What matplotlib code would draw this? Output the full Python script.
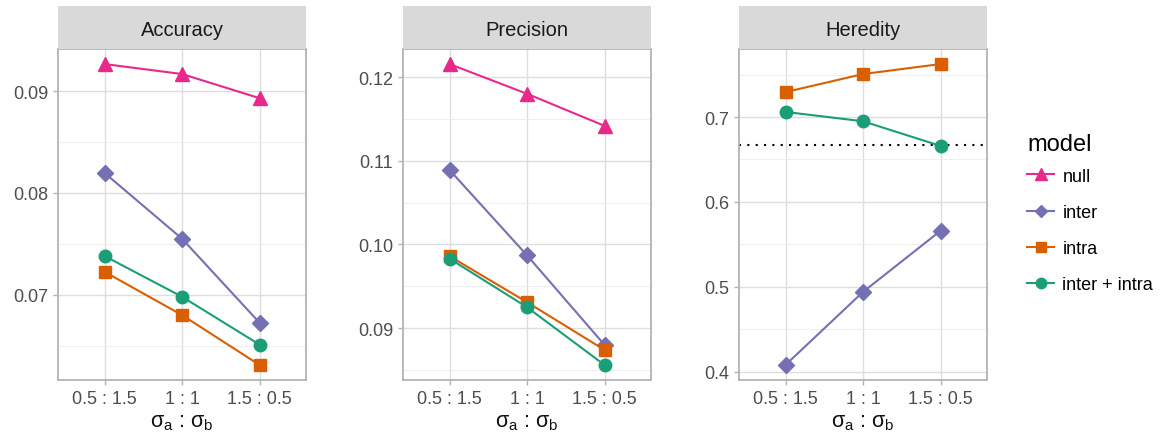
import matplotlib
matplotlib.use("Agg")
import matplotlib.pyplot as plt
from matplotlib.ticker import MultipleLocator
from matplotlib.lines import Line2D

plt.rcParams['font.family'] = ['Liberation Sans', 'DejaVu Sans']
plt.rcParams['mathtext.default'] = 'regular'

ratios = ['0.5 : 1.5', '1 : 1', '1.5 : 0.5']
models = ['null', 'inter', 'intra', 'inter + intra']
colors = {'null': '#E7298A', 'inter': '#7570B3', 'intra': '#D95F02', 'inter + intra': '#1B9E77'}
markers = {'null': '^', 'inter': 'D', 'intra': 's', 'inter + intra': 'o'}
msizes = {'null': 10, 'inter': 8, 'intra': 8.5, 'inter + intra': 9}

accuracy = {
    'null': [0.09265, 0.09167, 0.0893],
    'inter': [0.08196, 0.0755, 0.06725],
    'intra': [0.07225, 0.0680, 0.0631],
    'inter + intra': [0.0738, 0.0698, 0.0651],
}
precision = {
    'null': [0.12155, 0.1180, 0.11417],
    'inter': [0.1089, 0.0987, 0.0880],
    'intra': [0.0986, 0.0931, 0.0874],
    'inter + intra': [0.0983, 0.0925, 0.0856],
}
heredity = {
    'inter': [0.408, 0.494, 0.566],
    'intra': [0.7294, 0.7506, 0.7624],
    'inter + intra': [0.706, 0.695, 0.666],
}
heredity_ref = 2 / 3

panels = [('Accuracy', accuracy, 0.01, 0.005),
          ('Precision', precision, 0.01, 0.005),
          ('Heredity', heredity, 0.1, 0.05)]

fig = plt.figure(figsize=(11.63, 4.39), dpi=100)
W, H = 1163, 439
lefts = [58, 403, 739]
pw = 248
ptop, pbot = 50, 381
strip_h = 43

x = [1, 2, 3]
for (title, data, major, minor), left in zip(panels, lefts):
    ax = fig.add_axes([left / W, 1 - pbot / H, pw / W, (pbot - ptop) / H])
    for m in models:
        if m not in data:
            continue
        ax.plot(x, data[m], color=colors[m], marker=markers[m], markersize=msizes[m],
                linewidth=1.5, zorder=3)
    if title == 'Heredity':
        ax.axhline(heredity_ref, color='black', linestyle=(0, (1, 3)), linewidth=1.5, zorder=2)
    ax.set_xlim(0.4, 3.6)
    ax.margins(y=0.05)
    ax.set_xticks(x)
    ax.set_xticklabels(ratios)
    ax.yaxis.set_major_locator(MultipleLocator(major))
    ax.yaxis.set_minor_locator(MultipleLocator(minor))
    ax.grid(which='major', color='#DEDEDE', linewidth=1.0, zorder=0)
    ax.grid(which='minor', axis='y', color='#EBEBEB', linewidth=0.6, zorder=0)
    ax.set_axisbelow(True)
    for s in ax.spines.values():
        s.set_color('#B3B3B3')
        s.set_linewidth(1.3)
    ax.tick_params(which='major', colors='#B3B3B3', labelcolor='#4D4D4D',
                   labelsize=13, length=3.5, width=1)
    ax.tick_params(which='minor', length=0)
    ax.set_xlabel(r'$\sigma_a$ : $\sigma_b$', fontsize=15.5, labelpad=3, color='#111111')
    # strip
    sax = fig.add_axes([left / W, 1 - ptop / H, pw / W, strip_h / H])
    sax.set_facecolor('#D9D9D9')
    sax.set_xticks([])
    sax.set_yticks([])
    for s in sax.spines.values():
        s.set_visible(False)
    sax.text(0.5, 0.45, title, ha='center', va='center', fontsize=14.5, color='#1A1A1A',
             transform=sax.transAxes)

leg_ms = {'null': 8.5, 'inter': 6.5, 'intra': 7, 'inter + intra': 7.5}
handles = [Line2D([0], [0], color=colors[m], marker=markers[m], markersize=leg_ms[m],
                  linewidth=1.5) for m in models]
leg = fig.legend(handles, models, title='model', loc='upper left',
                 bbox_to_anchor=(1011 / W, 1 - 118 / H), frameon=False,
                 fontsize=13, title_fontsize=17, labelspacing=1.06,
                 handlelength=1.5, handletextpad=0.45)
leg._legend_box.align = 'left'
leg._legend_box.sep = 9

fig.savefig('out.png', dpi=100)
